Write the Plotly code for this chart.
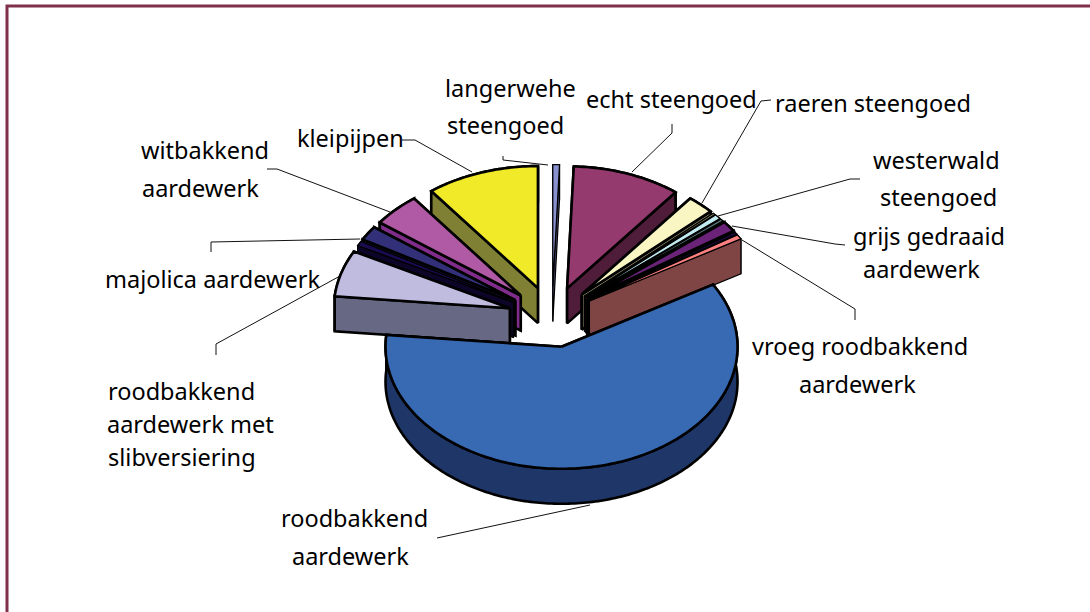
import numpy as np
import plotly.graph_objects as go

# --- data (clockwise from 12 o'clock) ---
categories = ["langerwehe steengoed", "echt steengoed", "raeren steengoed", "overig a",
              "westerwald steengoed", "overig b", "grijs gedraaid aardewerk", "overig c",
              "vroeg roodbakkend aardewerk", "roodbakkend aardewerk",
              "roodbakkend aardewerk met slibversiering", "overig d",
              "majolica aardewerk", "witbakkend aardewerk", "kleipijpen"]
values = [0.6, 9.9, 2.5, 0.2, 0.6, 0.3, 1.4, 0.3, 0.6, 59.7, 6.1, 0.6, 1.9, 4.4, 10.3]
top_colors = ["#8a91cf", "#953a6e", "#faf6c4", "#a8a880", "#c3ecf2", "#5a7a80", "#6a2378",
              "#1a0a40", "#ff8080", "#386ab4", "#bfbce0", "#1a0a50", "#33307a", "#b05aa5", "#f0ea28"]
side_colors = ["#454a70", "#4f1c3a", "#807c60", "#505038", "#628088", "#2c3c40", "#351140",
               "#0d0520", "#7f4545", "#1f3668", "#676883", "#0d0528", "#1a183e", "#7f2c8a", "#808034"]

# --- geometry of the projected pie, in page pixels ---
CX, CY, RX, RY, DEPTH, EXPLODE = 552, 317, 176, 122, 35, 0.25
total = sum(values)
edges = np.cumsum([0] + values) / total * 2 * np.pi

fig = go.Figure()


def poly(xs, ys, fill, width):
    fig.add_trace(go.Scatter(x=list(xs), y=list(ys), mode="lines", fill="toself", fillcolor=fill,
                             line=dict(color="black", width=width, simplify=False),
                             hoverinfo="skip", showlegend=False))


order = sorted(range(len(values)),
               key=lambda i: -np.cos((edges[i] + edges[i + 1]) / 2))
for i in order:
    t0, t1 = edges[i], edges[i + 1]
    tm = (t0 + t1) / 2
    w = 2.6 if values[i] >= 1 else 1.2
    ax = CX + EXPLODE * RX * np.sin(tm)
    ay = CY - EXPLODE * RY * np.cos(tm)
    ts = np.linspace(t0, t1, max(3, int((t1 - t0) * 60)))
    ox = ax + RX * np.sin(ts)
    oy = ay - RY * np.cos(ts)
    # outer wall
    poly(list(ox) + list(ox[::-1]) + [ox[0]], list(oy) + list((oy + DEPTH)[::-1]) + [oy[0]], side_colors[i], w)
    # radial walls, far one first
    for ex, ey in sorted([(ox[0], oy[0]), (ox[-1], oy[-1])], key=lambda p: p[1]):
        poly([ax, ex, ex, ax, ax], [ay, ey, ey + DEPTH, ay + DEPTH, ay], side_colors[i], w)
    # top face
    poly([ax] + list(ox) + [ax], [ay] + list(oy) + [ay], top_colors[i], w)

# --- labels ---
labels = [
    ("langerwehe", 510, 88), ("steengoed", 505, 125),
    ("echt steengoed", 671, 99),
    ("raeren steengoed", 873, 103),
    ("westerwald", 936, 160), ("steengoed", 938, 197),
    ("grijs gedraaid", 929, 236), ("aardewerk", 921, 269),
    ("vroeg roodbakkend", 860, 346), ("aardewerk", 857, 384),
    ("roodbakkend", 354, 518), ("aardewerk", 350, 556),
    ("roodbakkend", 181, 391), ("aardewerk met", 190, 424), ("slibversiering", 182, 457),
    ("majolica aardewerk", 212, 279),
    ("witbakkend", 205, 150), ("aardewerk", 200, 188),
    ("kleipijpen", 350, 138),
]
leaders = [
    [(503, 156), (503, 160), (548, 165)],
    [(672, 124), (672, 133), (632, 172)],
    [(771, 100), (761, 101), (702, 203)],
    [(860, 179), (850, 179), (718, 216)],
    [(845, 245), (835, 244), (732, 226)],
    [(855, 320), (855, 309), (742, 240)],
    [(437, 538), (590, 505)],
    [(216, 355), (216, 344), (340, 276)],
    [(211, 252), (211, 242), (360, 239)],
    [(267, 169), (277, 169), (390, 212)],
    [(402, 140), (415, 140), (472, 172)],
]
FONT = dict(family="Noto Sans", size=23.5, color="#000000")
annotations = [dict(x=x, y=y, text=t, xref="x", yref="y", showarrow=False, font=FONT,
                    align="center", xanchor="center", yanchor="middle") for t, x, y in labels]
shapes = []
for pts in leaders:
    for (a, b), (c, d) in zip(pts[:-1], pts[1:]):
        shapes.append(dict(type="line", x0=a, y0=b, x1=c, y1=d, xref="x", yref="y",
                           line=dict(color="#111111", width=1), layer="below"))
shapes.append(dict(type="rect", x0=7, y0=6, x1=1200, y1=700, xref="x", yref="y",
                   line=dict(color="#80304a", width=3), layer="below"))

fig.update_layout(width=1090, height=612, margin=dict(l=0, r=0, t=0, b=0),
                  paper_bgcolor="white", plot_bgcolor="white", showlegend=False,
                  xaxis=dict(range=[0, 1090], visible=False, fixedrange=True),
                  yaxis=dict(range=[612, 0], visible=False, fixedrange=True),
                  annotations=annotations, shapes=shapes)
fig.write_html("out.html", config=dict(displayModeBar=False),
               post_script="document.body.style.margin='0';document.body.style.overflow='hidden';")
